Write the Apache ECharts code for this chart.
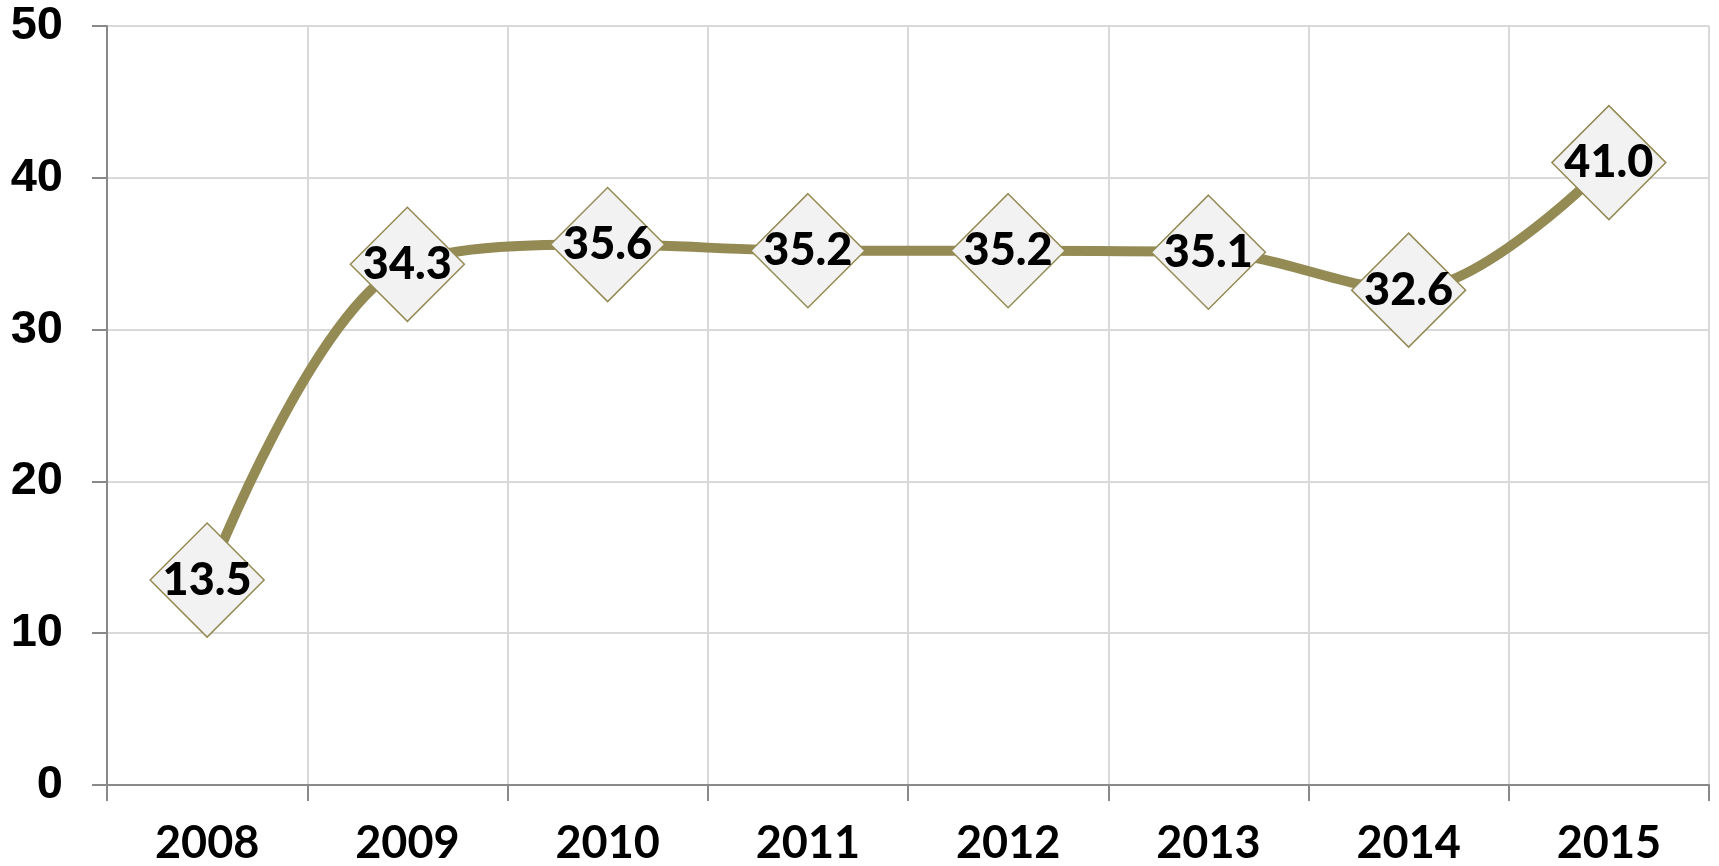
<!DOCTYPE html>
<html>
<head>
<meta charset="utf-8">
<script src="https://cdn.jsdelivr.net/npm/echarts@6/dist/echarts.min.js"></script>
<style>html,body{margin:0;padding:0;background:#fff;}#c{width:1719px;height:866px;}</style>
</head>
<body>
<div id="c"></div>
<script>
const categories = ['2008','2009','2010','2011','2012','2013','2014','2015'];
const values = [13.5, 34.3, 35.6, 35.2, 35.2, 35.1, 32.6, 41.0];
const yTicks = [0, 10, 20, 30, 40, 50];

const chart = echarts.init(document.getElementById('c'));
chart.setOption({
  animation: false,
  grid: {left: 107, right: 10, top: 26, bottom: 80},
  xAxis: {
    type: 'category',
    data: categories,
    boundaryGap: true,
    axisLine: {lineStyle: {color: '#898989', width: 2}},
    axisTick: {show: true, length: 16, alignWithLabel: false, lineStyle: {color: '#898989', width: 2}},
    splitLine: {show: true, lineStyle: {color: '#d9d9d9', width: 2}},
    axisLabel: {color: '#000', fontFamily: '"Liberation Sans Narrow", Lato', fontWeight: 'bold', fontSize: 45, margin: 36}
  },
  yAxis: {
    type: 'value',
    min: yTicks[0], max: yTicks[yTicks.length - 1], interval: 10,
    axisLine: {show: true, lineStyle: {color: '#898989', width: 2}},
    axisTick: {show: true, length: 15, lineStyle: {color: '#898989', width: 2}},
    splitLine: {show: true, lineStyle: {color: '#d9d9d9', width: 2}},
    axisLabel: {color: '#000', fontFamily: 'Liberation Sans', fontWeight: 'bold', fontSize: 47, margin: 44}
  },
  series: [{
    type: 'line',
    data: values,
    smooth: 0.35,
    lineStyle: {color: '#948a54', width: 10},
    symbol: 'diamond',
    symbolSize: 114,
    itemStyle: {color: '#f2f2f2', borderColor: '#948a54', borderWidth: 1.5},
    label: {
      show: true, position: 'inside',
      formatter: p => p.value.toFixed(1),
      color: '#000', fontFamily: 'Lato', fontWeight: 900, fontSize: 45
    },
    z: 3
  }]
});
</script>
</body>
</html>
